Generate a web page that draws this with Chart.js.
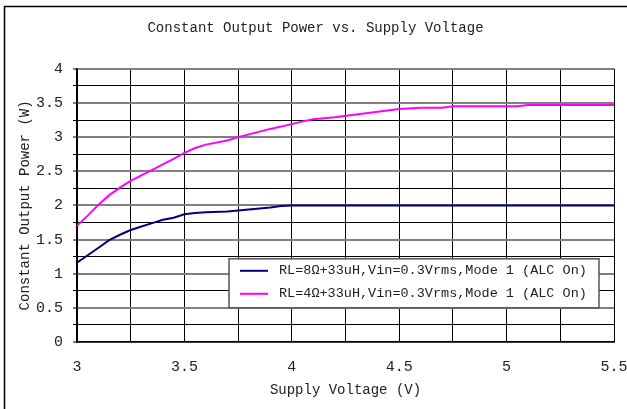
<!DOCTYPE html>
<html>
<head>
<meta charset="utf-8">
<script src="https://cdn.jsdelivr.net/npm/chart.js@4/dist/chart.umd.min.js"></script>
<style>
    html, body { margin: 0; padding: 0; background: #fff; }
    #wrap { width: 627px; height: 409px; }
</style>
</head>
<body>
<div id="wrap"><canvas id="grafik"></canvas></div>
<script>
// podaci ocitani sa slike
const napon8 = [3.0, 3.05, 3.1, 3.15, 3.2, 3.25, 3.3, 3.35, 3.4, 3.45, 3.5, 3.55, 3.6, 3.7, 3.8, 3.9, 3.95, 4.0, 4.5, 5.0, 5.5];
const snaga8 = [1.16, 1.27, 1.38, 1.49, 1.57, 1.64, 1.69, 1.74, 1.79, 1.82, 1.87, 1.89, 1.90, 1.91, 1.94, 1.97, 1.99, 2.0, 2.0, 2.0, 2.0];

const napon4 = [3.0, 3.05, 3.1, 3.15, 3.2, 3.25, 3.3, 3.35, 3.4, 3.45, 3.5, 3.55, 3.6, 3.7, 3.75, 3.8, 3.9, 4.0, 4.05, 4.1, 4.2, 4.3, 4.4, 4.5, 4.6, 4.7, 4.75, 4.9, 5.05, 5.1, 5.5];
const snaga4 = [1.70, 1.85, 2.01, 2.15, 2.26, 2.36, 2.44, 2.52, 2.60, 2.68, 2.77, 2.84, 2.89, 2.95, 3.00, 3.04, 3.12, 3.19, 3.23, 3.26, 3.29, 3.33, 3.37, 3.41, 3.43, 3.43, 3.45, 3.45, 3.45, 3.47, 3.47];

const oznake = ["RL=8Ω+33uH,Vin=0.3Vrms,Mode 1 (ALC On)", "RL=4Ω+33uH,Vin=0.3Vrms,Mode 1 (ALC On)"];
const boje = ["#000080", "#ff00ff"];

const naslov = "Constant Output Power vs. Supply Voltage";
const naslovX = "Supply Voltage (V)";
const naslovY = "Constant Output Power (W)";

const font = "'Liberation Mono', monospace";

function tacke(xs, ys) {
    return xs.map((x, i) => ({ x: x, y: ys[i] }));
}

function jeGlavna(v) {
    return Math.abs(v * 2 - Math.round(v * 2)) < 1e-6;
}

const okvir = {
    id: 'okvir',
    beforeDraw(chart) {
        const ctx = chart.ctx;
        ctx.save();
        ctx.fillStyle = '#fff';
        ctx.fillRect(0, 0, chart.width, chart.height);
        ctx.strokeStyle = '#000';
        ctx.lineWidth = 1.5;
        ctx.beginPath();
        ctx.moveTo(4.5, chart.height);
        ctx.lineTo(4.5, 6.5);
        ctx.lineTo(chart.width, 6.5);
        ctx.stroke();
        ctx.restore();
    }
};

const legenda = {
    id: 'legenda',
    afterDatasetsDraw(chart) {
        const ctx = chart.ctx;
        const a = chart.chartArea;
        const x0 = a.right - 385, y0 = a.top + 190, w = 370, h = 49;
        ctx.save();
        ctx.fillStyle = '#fff';
        ctx.fillRect(x0, y0, w, h);
        ctx.strokeStyle = '#555';
        ctx.lineWidth = 1.5;
        ctx.strokeRect(x0, y0, w, h);
        ctx.font = "13.5px " + font;
        ctx.textBaseline = 'middle';
        chart.data.datasets.forEach((ds, i) => {
            const y = y0 + 12 + i * 23;
            ctx.strokeStyle = ds.borderColor;
            ctx.lineWidth = 2;
            ctx.beginPath();
            ctx.moveTo(x0 + 11, y);
            ctx.lineTo(x0 + 39, y);
            ctx.stroke();
            ctx.fillStyle = '#222';
            ctx.fillText(ds.label, x0 + 50, y);
        });
        ctx.restore();
    }
};

new Chart(document.getElementById("grafik"), {
    type: 'line',
    data: {
        datasets: [{
            label: oznake[0],
            data: tacke(napon8, snaga8),
            borderColor: boje[0],
            borderWidth: 2,
            pointRadius: 0,
            tension: 0
        }, {
            label: oznake[1],
            data: tacke(napon4, snaga4),
            borderColor: boje[1],
            borderWidth: 2,
            pointRadius: 0,
            tension: 0
        }]
    },
    options: {
        responsive: true,
        maintainAspectRatio: false,
        animation: false,
        layout: { padding: { left: 17, right: 13, top: 0, bottom: 6 } },
        plugins: {
            legend: { display: false },
            tooltip: { enabled: false },
            title: {
                display: true,
                text: naslov,
                color: '#222',
                font: { family: font, size: 14, weight: 'normal' },
                padding: { top: 20, bottom: 32 }
            }
        },
        scales: {
            x: {
                type: 'linear',
                min: 3,
                max: 5.5,
                ticks: {
                    stepSize: 0.25,
                    autoSkip: false,
                    maxRotation: 0,
                    color: '#222',
                    padding: 16,
                    font: { family: font, size: 15 },
                    callback: v => jeGlavna(v) ? String(v) : ''
                },
                grid: {
                    color: '#000',
                    lineWidth: 1,
                    tickLength: 0
                },
                border: { color: '#000', width: 1.5 },
                title: {
                    display: true,
                    text: naslovX,
                    color: '#222',
                    font: { family: font, size: 14 },
                    padding: { top: 0, bottom: 4 }
                },
                afterFit: s => { s.height = 61; s.paddingRight = 0; s.paddingLeft = 0; }
            },
            y: {
                min: 0,
                max: 4,
                ticks: {
                    stepSize: 0.25,
                    autoSkip: false,
                    color: '#222',
                    padding: 10,
                    font: { family: font, size: 15 },
                    callback: v => jeGlavna(v) ? String(v) : ''
                },
                grid: {
                    color: ctx => jeGlavna(ctx.tick.value) ? '#808080' : '#000',
                    lineWidth: ctx => jeGlavna(ctx.tick.value) ? 2 : 1,
                    tickLength: 4
                },
                border: { color: '#000', width: 1.5 },
                title: {
                    display: true,
                    text: naslovY,
                    color: '#222',
                    font: { family: font, size: 14 },
                    padding: { top: 0, bottom: 6 }
                },
                afterFit: s => { s.width = 60; }
            }
        }
    },
    plugins: [okvir, legenda]
});
</script>
</body>
</html>
